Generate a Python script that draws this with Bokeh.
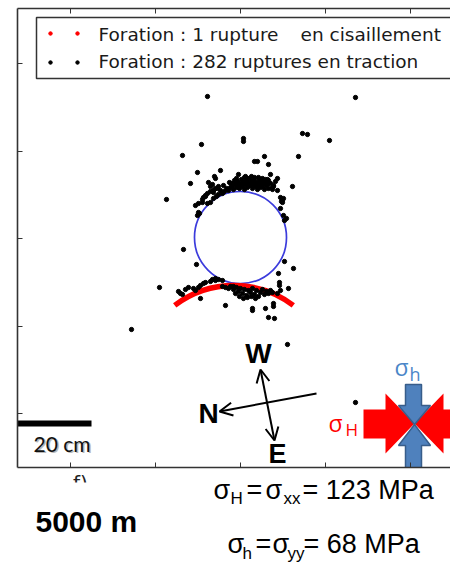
from bokeh.plotting import figure
from bokeh.layouts import column
from bokeh.models import (Range1d, LinearAxis, FixedTicker, Label, Arrow, OpenHead)
from bokeh.core.properties import value
from bokeh.embed import file_html
from bokeh.resources import INLINE

# ---------------- data (offsets from the borehole centre, x right / y up) ----
# tensile ruptures (black dots)
trac_x = [-33, 115, 62, 67, 89, 3, 3, -39, -58, 58, 24, 14, 17, 28, -109, 47, 115,
          -74, -57, -44, 44, 53, 38, -81, -15, 12, 12, 25, 28, 34, 33, 33, 48, 39, 39,
          -40, 52,
          -43, -20, -26, -25, -50, -2, 5, 7, 14, 22, 30, 37, 35, 33, 20, 25, -30, -28,
          -22, -33, -35, -38, -42, 43, 41, -45, -38, -33, -30, -42, -43, -41, 40, 42,
          43, 46, 44, -25, -28,
          20, 23, 27, 28, 32, 33, 37, 40, 42,
          -12, -10, -8, -7, -5, -4, -3, -2, -1, 0, 1, 2, 3, 4, 5, 6, 7, 8, 9, 10, 11,
          12, 13, 14, 15, 16, 17, 18, 19, 20, 21, 22, 23, 24, 26, 28, -9, -6, -14, -16,
          -18, -11, -4, 4, 11, 18, 25, 30, 28, 32, -20, -22, -24, -27,
          -37, -35, -30, -27, -23, -17, -32, -27, -25,
          -40, -37, -35, -30, -25, -22, -18, -47, -42, -45, -62, -60, -58, -55, -52,
          -10, -7, -4, -2, 0, 2, 4, 6, 8, 10, 12, 14, 16, 18, 20, 22, 24, 26, -5, -1,
          3, 7, 11, 15, -7, -12, -15, -18,
          28, 30, 32, 37, 40]
trac_y = [142, 141, 105, 104, 98, 100, 97, 94, 83, 82, 82, 77, 77, 74, -91, -106, -164,
          39, -11, -26, -23, -30, -35, -49, -67, -70, -72, -70, -79, -80, -65, -68, -50,
          -44, -47, -60, 52,
          66, 68, 62, 60, 55, 64, 62, 60, 61, 60, 64, 60, 57, 52, 55, 55, 52, 54,
          52, 45, 42, 39, 35, 40, 37, 33, 36, 35, 36, 26, 23, 25, 30, 36,
          23, 20, 18, -40, -41,
          58, 56, 59, 55, 51, 53, 48, 41, 38,
          48, 51, 53, 49, 55, 51, 57, 53, 50, 55, 59, 52, 56, 49, 54, 58, 51, 55, 60,
          53, 57, 50, 54, 58, 52, 56, 49, 53, 59, 51, 55, 52, 57, 49, 53, 50, 55, 58,
          50, 47, 45, 56, 60, 61, 62, 61, 59, 55, 58, 49, 48, 44, 42, 40,
          41, 43, 47, 48, 50, 53, 56, 46, 50,
          -47, -45, -44, -43, -42, -41, -42, -50, -49, -52, -53, -55, -56, -51, -49,
          -48, -51, -49, -53, -50, -55, -51, -57, -52, -54, -50, -56, -52, -58, -54,
          -51, -56, -53, -55, -58, -60, -59, -58, -60, -48, -50, -49, -48,
          -55, -52, -54, -55, -52]

# borehole wall
hole_x, hole_y, hole_r = 0, 1, 46
# shear rupture (red arc)
shear_x, shear_y, shear_r = -6.5, -145.5, 98.5
shear_start, shear_end = 53, 127          # degrees

x_ticks = [-170, -85, 0, 85, 170]
y_ticks = [-175, -87.5, 0, 87.5, 175]

legend_rows = ["Foration : 1 rupture", "Foration : 282 ruptures en traction"]
depth_label = "5000 m"
sigma_H_val = "= 123 MPa"
sigma_h_val = "= 68 MPa"

X_RANGE = (-223, 210)

# ---------------- main figure -------------------------------------------------
p = figure(width=450, height=469, x_range=Range1d(*X_RANGE), y_range=Range1d(-229, 230),
           output_backend="svg", toolbar_location=None,
           min_border_left=17, min_border_right=0, min_border_top=8, min_border_bottom=2,
           x_axis_location="below", y_axis_location="left")
p.grid.visible = False
p.outline_line_color = None
p.background_fill_color = "white"
p.border_fill_color = "white"
p.add_layout(LinearAxis(), "above")

AX = "#333333"
for ax in p.xaxis:
    ax.ticker = FixedTicker(ticks=x_ticks)
for ax in p.yaxis:
    ax.ticker = FixedTicker(ticks=y_ticks)
for ax in p.axis:
    ax.axis_line_color = AX
    ax.axis_line_width = 1.6
    ax.major_tick_line_color = AX
    ax.major_tick_line_width = 1
    ax.major_tick_in = 5
    ax.major_tick_out = 0
    ax.minor_tick_line_color = None
    ax.major_label_text_font_size = "1px"
    ax.major_label_text_color = None
    ax.major_label_standoff = 0

# borehole and ruptures
p.circle(x=[hole_x], y=[hole_y], radius=hole_r, fill_color=None,
         line_color="#3c3cdc", line_width=1.7)
p.arc(x=[shear_x], y=[shear_y], radius=shear_r, start_angle=shear_start,
      end_angle=shear_end, start_angle_units="deg", end_angle_units="deg",
      line_color="#ff0000", line_width=5.5)
p.scatter(trac_x, trac_y, size=4.3, color="black", marker="circle")

# legend box (drawn by hand: two sample dots per entry)
p.quad(left=[-204], right=[260], top=[221], bottom=[160],
       fill_color="white", line_color="#333333", line_width=1.5)
p.scatter([-190, -163], [205, 205], size=3.5, color="#ff0000")
p.scatter([-190, -163], [176, 176], size=3.5, color="black")
LF = dict(text_font="DejaVu Sans", text_font_size="18.5px", text_color="#1a1a1a",
          text_baseline="middle")
p.add_layout(Label(x=-142, y=204, text=legend_rows[0], **LF))
p.add_layout(Label(x=60, y=204, text="en cisaillement", **LF))
p.add_layout(Label(x=-142, y=177, text=legend_rows[1], **LF))

# scale bar
p.line([-224, -149], [-185, -185], line_color="black", line_width=6)
p.add_layout(Label(x=-178.5, y=-204.5, x_offset=1.5, y_offset=-1.5, text="20 cm",
                   text_font="Lato", text_font_size="21px", text_color="#b8b8b8",
                   text_align="center", text_baseline="middle"))
p.add_layout(Label(x=-178.5, y=-204.5, text="20 cm", text_font="Lato",
                   text_font_size="21px", text_color="#111111",
                   text_align="center", text_baseline="middle"))

# compass
p.add_layout(Arrow(start=OpenHead(size=13, line_width=2), end=OpenHead(size=13, line_width=2),
                   x_start=34, y_start=-202, x_end=20, y_end=-131,
                   line_width=2, line_color="black"))
p.add_layout(Arrow(end=OpenHead(size=13, line_width=2),
                   x_start=76, y_start=-155, x_end=-21, y_end=-173,
                   line_width=2, line_color="black"))
CF = dict(text_font="Liberation Sans", text_font_style="bold",
          text_color="black", text_align="center", text_baseline="middle")
p.add_layout(Label(x=18, y=-115, text="W", text_font_size="28px", **CF))
p.add_layout(Label(x=-32, y=-175, text="N", text_font_size="28px", **CF))
p.add_layout(Label(x=37, y=-215, text="E", text_font_size="27px", **CF))

# stress symbol (centre cx, cy)
cx, cy = 174, -185
RED, BLUE, BLUE_EDGE = "#ff0000", "#4f81bd", "#385d8a"
p.patch([cx - 51, cx - 29, cx - 29, cx, cx - 29, cx - 29, cx - 51],
        [cy + 14, cy + 14, cy + 30, cy, cy - 30, cy - 15, cy - 15],
        fill_color=RED, line_color=None)
p.patch([cx + 51, cx + 29, cx + 29, cx, cx + 29, cx + 29, cx + 51],
        [cy + 14, cy + 14, cy + 30, cy, cy - 30, cy - 15, cy - 15],
        fill_color=RED, line_color=None)
p.patch([cx - 9, cx + 7, cx + 7, cx + 16, cx, cx - 16, cx - 9],
        [cy + 39, cy + 39, cy + 18, cy + 18, cy - 1, cy + 18, cy + 18],
        fill_color=BLUE, line_color=BLUE_EDGE, line_width=1.5)
p.patch([cx, cx + 16, cx + 7, cx + 7, cx - 9, cx - 9, cx - 16],
        [cy - 1, cy - 22, cy - 22, cy - 60, cy - 60, cy - 22, cy - 22],
        fill_color=BLUE, line_color=BLUE_EDGE, line_width=1.5)
SF = dict(text_font="Open Sans", text_baseline="middle")
p.add_layout(Label(x=154, y=-128, text="σ", text_font_size="23px", text_color="#4a86c8", **SF))
p.add_layout(Label(x=169, y=-135, text="h", text_font_size="18px", text_color="#4a86c8", **SF))
p.add_layout(Label(x=88, y=-184, text="σ", text_font_size="23px", text_color=RED, **SF))
p.add_layout(Label(x=105, y=-191, text="H", text_font_size="17px", text_color=RED, **SF))

# ---------------- strip under the frame (same horizontal mapping) -------------
q = figure(width=450, height=99, x_range=Range1d(*X_RANGE), y_range=Range1d(-330, -231),
           output_backend="svg", toolbar_location=None,
           min_border_left=17, min_border_right=0, min_border_top=0, min_border_bottom=0,
           x_axis_location=None, y_axis_location=None)
q.grid.visible = False
q.outline_line_color = None
q.background_fill_color = "white"
q.border_fill_color = "white"

# cut-off panel letter of the original figure (only its top shows)
q.text(x=[-160], y=[-232], text=["f)"], text_font=value("DejaVu Sans"),
       text_font_size="20px", text_color="#222222", text_align="center",
       text_baseline="top")
q.quad(left=[-230], right=[215], top=[-244], bottom=[-335], fill_color="white",
       line_color=None)

q.add_layout(Label(x=-205, y=-283, text=depth_label, text_font="Liberation Sans",
                   text_font_style="bold", text_font_size="30px", text_color="black",
                   text_baseline="middle"))
BF = dict(text_font="Liberation Sans", text_color="black", text_baseline="middle")
for (base, pieces) in [
        (-251, [("σ", -27, 0), ("H", -10, 1), ("=", 6, 0), ("σ", 25, 0),
                ("xx", 43, 1), (sigma_H_val, 62, 0)]),
        (-305.5, [("σ", -13, 0), ("h", 2, 1), ("=", 15, 0), ("σ", 32, 0),
                  ("yy", 47, 1), (sigma_h_val, 63, 0)])]:
    for (txt, xx, sub) in pieces:
        q.add_layout(Label(x=xx, y=base - (9 if sub else 0), text=txt,
                           text_font_size="17px" if sub else "27px", **BF))

layout = column(p, q, spacing=0)
open("out.html", "w").write(file_html(layout, INLINE))
